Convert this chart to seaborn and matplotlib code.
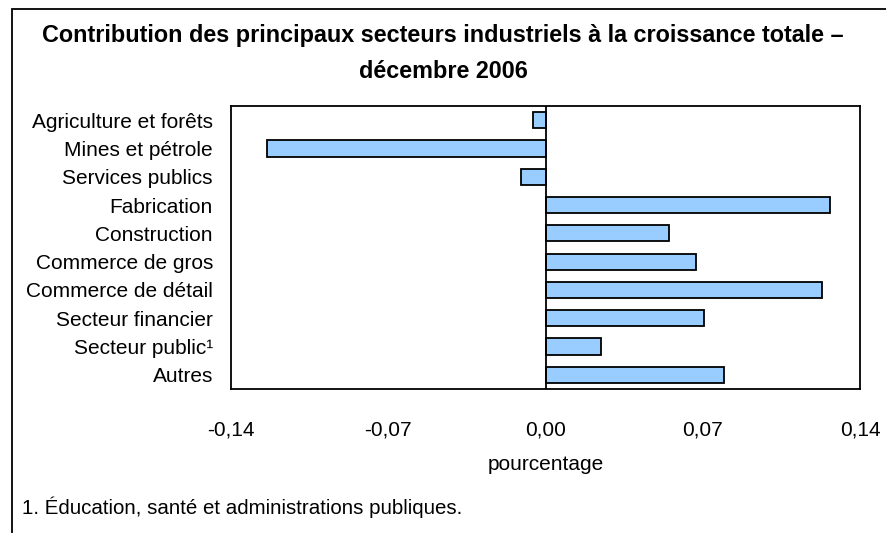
import matplotlib
matplotlib.use("Agg")
from matplotlib import pyplot as plt
from matplotlib.patches import Rectangle
import pandas as pd
import numpy as np
import seaborn as sns

secteurs = ["Agriculture et forêts", "Mines et pétrole", "Services publics",
            "Fabrication", "Construction", "Commerce de gros",
            "Commerce de détail", "Secteur financier", "Secteur public¹", "Autres"]
contribution = [-0.0057, -0.124, -0.011, 0.1267, 0.0548, 0.0672,
                0.123, 0.0707, 0.0246, 0.0796]
ticks_x = [-0.14, -0.07, 0.0, 0.07, 0.14]
tick_labels = ["-0,14", "-0,07", "0,00", "0,07", "0,14"]

df = pd.DataFrame({"secteur": secteurs, "valeur": contribution})

sns.set_style("white", {"text.color": "black", "axes.labelcolor": "black",
                        "xtick.color": "black", "ytick.color": "black"})
plt.rcParams['font.family'] = ['Liberation Sans', 'DejaVu Sans']

W, H = 886, 533
fig = plt.figure(figsize=(W / 100, H / 100), dpi=100)
ax = fig.add_axes([231 / W, 1 - 389 / H, (860 - 231) / W, (389 - 106) / H])

sns.barplot(data=df, x="valeur", y="secteur", orient="h", color="#99ccff",
            saturation=1, width=0.57, edgecolor="black", linewidth=1.3, ax=ax)

ax.set_xlim(-0.14, 0.14)
ax.set_ylim(9.5, -0.5)
ax.axvline(0, color="black", lw=1.3, zorder=5)
ax.set_xticks(ticks_x)
ax.set_xticklabels(tick_labels, fontsize=15)
ax.tick_params(axis="x", direction="in", length=6, width=1.3, color="black", pad=23)
ax.tick_params(axis="y", length=0, pad=13, labelsize=15)
ax.set_xlabel("pourcentage", fontsize=15, labelpad=11)
ax.set_ylabel("")
for s in ax.spines.values():
    s.set_color("black")
    s.set_linewidth(1.3)

fig.text(0.5, 1 - 42 / H, "Contribution des principaux secteurs industriels à la croissance totale –",
         ha="center", va="baseline", fontsize=16.8, fontweight="bold")
fig.text(0.5, 1 - 78 / H, "décembre 2006",
         ha="center", va="baseline", fontsize=16.8, fontweight="bold")
fig.text(22 / W, 1 - 514 / H, "1. Éducation, santé et administrations publiques.",
         ha="left", va="baseline", fontsize=14.8)

# cadre extérieur (haut et gauche visibles)
fig.patches.append(Rectangle((12 / W, -0.1), 1.2, 1 - 9 / H + 0.1, transform=fig.transFigure,
                             fill=False, edgecolor="black", lw=1.3, figure=fig))

fig.savefig("out.png", dpi=100)
